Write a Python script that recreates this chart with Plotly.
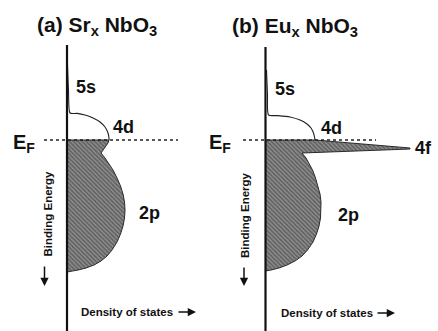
import plotly.graph_objects as go

# Schematic densities of states. Energy axis: binding energy (eV, E_F = 0,
# positive = below E_F). DOS in arbitrary units.

# (a) Sr_x NbO3 -- empty states above E_F (Nb 5s tail and 4d band)
sr_empty_E = [-3.75, -2.5, -1.35, -1.33, -1.25, -1.1, -0.9, -0.65, -0.35, -0.1, 0.0]
sr_empty_D = [0.05, 0.15, 0.3, 1.0, 1.8, 2.6, 3.3, 3.8, 4.1, 4.2, 4.2]

# (a) occupied states below E_F (filled 4d tail + O 2p band)
sr_occ_E = [0.0, 0.15, 0.35, 0.65, 0.9, 1.2, 1.5, 1.9, 2.3, 2.7, 3.1, 3.5, 3.9,
            4.3, 4.7, 5.1, 5.5, 5.8, 6.05, 6.25, 6.4, 6.5, 6.575, 6.6]
sr_occ_D = [4.2, 4.1, 3.8, 3.4, 3.8, 4.2, 4.6, 5.0, 5.35, 5.6, 5.75, 5.8, 5.75,
            5.6, 5.35, 5.0, 4.5, 4.0, 3.4, 2.7, 1.9, 1.1, 0.3, 0.0]

# (b) Eu_x NbO3 -- empty states above E_F
eu_empty_E = [-3.5, -2.25, -1.25, -1.22, -1.15, -1.0, -0.8, -0.6, -0.35, -0.15, 0.0]
eu_empty_D = [0.1, 0.2, 0.3, 1.25, 2.45, 3.45, 4.15, 4.55, 4.8, 4.9, 4.95]

# (b) occupied states: 4d tail, narrow Eu 4f peak, O 2p band
eu_occ_E = [0.0, 0.1, 0.2, 0.3, 0.4, 0.45, 0.5, 0.55, 0.6, 0.65,
            0.9, 1.2, 1.5, 1.9, 2.3, 2.7, 3.1, 3.5, 3.9, 4.3, 4.7,
            5.1, 5.5, 5.8, 6.05, 6.25, 6.4, 6.5, 6.55]
eu_occ_D = [4.95, 7.35, 9.65, 12.05, 14.45, 14.45, 11.75, 9.05, 6.35, 3.65,
            4.05, 4.4, 4.7, 5.0, 5.25, 5.45, 5.55, 5.55, 5.5, 5.35, 5.1,
            4.75, 4.2, 3.65, 2.95, 2.15, 1.35, 0.55, 0.0]

FONT = "Liberation Sans, Arial, Helvetica, sans-serif"
HATCH = dict(shape="\\", fgcolor="#2e2e2e", bgcolor="#8e8e8e", size=3, solidity=0.5)

fig = go.Figure()

panels = [
    ("x", "y", sr_empty_D, sr_empty_E, sr_occ_D, sr_occ_E),
    ("x2", "y2", eu_empty_D, eu_empty_E, eu_occ_D, eu_occ_E),
]
for xa, ya, ed, ee, od, oe in panels:
    fig.add_trace(go.Scatter(
        x=[0] + od + [0], y=[oe[0]] + oe + [oe[-1]],
        xaxis=xa, yaxis=ya, mode="lines", fill="toself",
        fillcolor="#6e6e6e", fillpattern=HATCH,
        line=dict(color="#2a2a2a", width=1), hoverinfo="skip", showlegend=False))
    fig.add_trace(go.Scatter(
        x=ed, y=ee, xaxis=xa, yaxis=ya, mode="lines",
        line=dict(color="#222", width=1.1, shape="spline", smoothing=0.6),
        hoverinfo="skip", showlegend=False))

# DOS axis lines and Fermi level
for xa, ya, top, ef_lo, ef_hi in [("x", "y", -4.75, -2.3, 11.1), ("x2", "y2", -4.65, -2.25, 11.05)]:
    fig.add_shape(type="line", xref=xa, yref=ya, x0=0, x1=0, y0=top, y1=9.8,
                  line=dict(color="#111", width=2.2))
    fig.add_shape(type="line", xref=xa, yref=ya, x0=ef_lo, x1=ef_hi, y0=0, y1=0,
                  line=dict(color="#222", width=1.6, dash="dot"))

def label(xa, ya, x, y, text, size, angle=0):
    fig.add_annotation(xref=xa, yref=ya, x=x, y=y, text=text, showarrow=False,
                       xanchor="center", yanchor="middle", textangle=angle,
                       font=dict(family=FONT, size=size, color="#111", weight="bold"))

def arrow(xa, ya, x0, y0, x1, y1):
    fig.add_annotation(xref=xa, yref=ya, axref=xa, ayref=ya, x=x1, y=y1, ax=x0, ay=y0,
                       text="", showarrow=True, arrowhead=2, arrowsize=1.1,
                       arrowwidth=1.5, arrowcolor="#111")

# panel (a)
label("x", "y", 3.0, -5.7, "(a) Sr<sub>x</sub> NbO<sub>3</sub>", 21)
label("x", "y", 1.9, -2.65, "5s", 18)
label("x", "y", 5.65, -0.65, "4d", 18)
label("x", "y", 8.2, 3.65, "2p", 18)
label("x", "y", -4.35, 0.15, "E<sub>F</sub>", 20)
label("x", "y", -2.0, 3.675, "Binding Energy", 11.5, -90)
label("x", "y", 5.95, 8.6, "Density of states", 11.5)
arrow("x", "y", -2.25, 6.25, -2.25, 7.3)
arrow("x", "y", 11.0, 8.6, 12.9, 8.6)

# panel (b)
label("x2", "y2", 2.95, -5.65, "(b) Eu<sub>x</sub> NbO<sub>3</sub>", 21)
label("x2", "y2", 1.9, -2.55, "5s", 18)
label("x2", "y2", 6.6, -0.6, "4d", 18)
label("x2", "y2", 15.75, 0.4, "4f", 18)
label("x2", "y2", 8.25, 3.75, "2p", 18)
label("x2", "y2", -4.55, 0.15, "E<sub>F</sub>", 20)
label("x2", "y2", -2.05, 3.75, "Binding Energy", 11.5, -90)
label("x2", "y2", 6.1, 8.65, "Density of states", 11.5)
arrow("x2", "y2", -2.15, 6.3, -2.15, 7.3)
arrow("x2", "y2", 11.05, 8.65, 12.95, 8.65)

hidden = dict(visible=False, showgrid=False, zeroline=False, fixedrange=True)
fig.update_layout(
    width=438, height=331, margin=dict(l=0, r=0, t=0, b=0),
    paper_bgcolor="white", plot_bgcolor="white", showlegend=False,
    xaxis=dict(domain=[0, 0.5], range=[-6.7, 15.2], **hidden),
    yaxis=dict(domain=[0, 1], range=[9.55, -7.0], **hidden),
    xaxis2=dict(domain=[0.5, 1], range=[-4.65, 17.25], anchor="y2", **hidden),
    yaxis2=dict(domain=[0, 1], range=[9.55, -7.0], anchor="x2", **hidden),
)

fig.write_html("out.html")
